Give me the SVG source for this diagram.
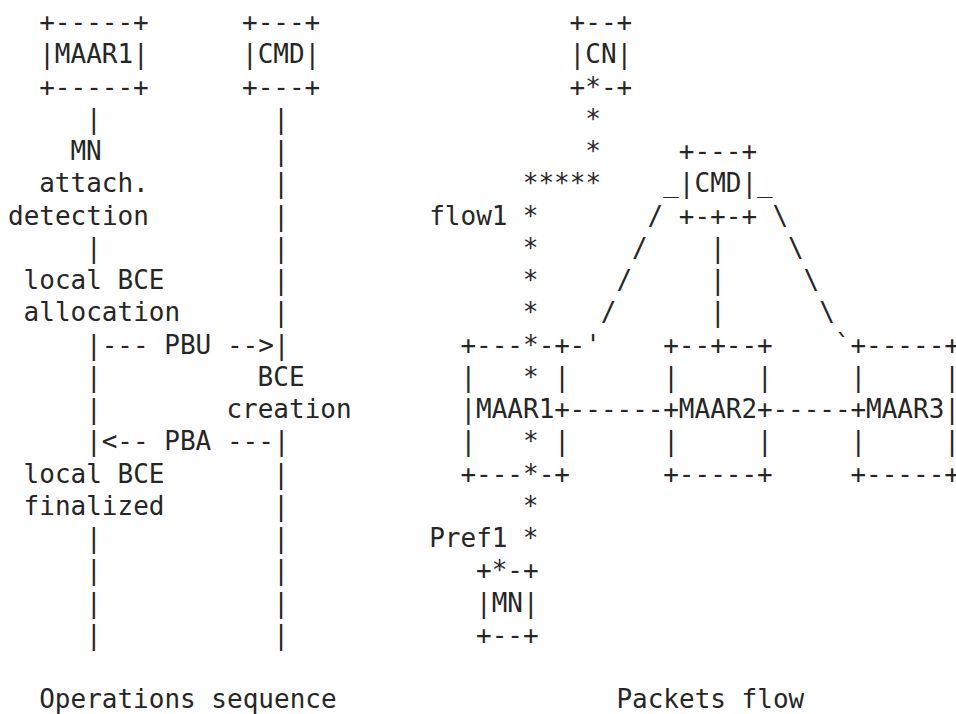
<svg xmlns="http://www.w3.org/2000/svg" width="956" height="714" viewBox="0 0 956 714" xml:space="preserve">
<style>
text { font-family: "DejaVu Sans Mono", monospace; font-size: 26px; fill: #262626; white-space: pre; }
</style>
<rect width="956" height="714" fill="#fff"/>
<g id="seq-maar1">
<text x="39.2" y="31">+-----+</text>
<text x="39.2" y="63.25">|MAAR1|</text>
<text x="39.2" y="95.5">+-----+</text>
</g>
<g id="seq-cmd">
<text x="242" y="31">+---+</text>
<text x="242" y="63.25">|CMD|</text>
<text x="242" y="95.5">+---+</text>
</g>
<g id="seq-attach">
<text x="70.4" y="160">MN</text>
<text x="39.2" y="192.25">attach.</text>
<text x="8" y="224.5">detection</text>
</g>
<g id="seq-alloc">
<text x="23.6" y="289">local BCE</text>
<text x="23.6" y="321.25">allocation</text>
</g>
<g id="seq-bce">
<text x="257.6" y="385.75">BCE</text>
<text x="226.4" y="418">creation</text>
</g>
<g id="seq-final">
<text x="23.6" y="482.5">local BCE</text>
<text x="23.6" y="514.75">finalized</text>
</g>
<g id="seq-label">
<text x="39.2" y="708.25">Operations sequence</text>
</g>
<g id="flow-cn">
<text x="569.6" y="31">+--+</text>
<text x="569.6" y="63.25">|CN|</text>
<text x="569.6" y="95.5">+*-+</text>
</g>
<g id="flow-cmd">
<text x="678.8" y="160">+---+</text>
<text x="663.2" y="192.25">_|CMD|_</text>
<text x="678.8" y="224.5">+-+-+</text>
</g>
<g id="flow-maar1">
<text x="460.4" y="353.5">+---*-+</text>
<text x="460.4" y="385.75">|   * |</text>
<text x="460.4" y="418">|MAAR1+</text>
<text x="460.4" y="450.25">|   * |</text>
<text x="460.4" y="482.5">+---*-+</text>
</g>
<g id="flow-maar2">
<text x="663.2" y="353.5">+--+--+</text>
<text x="663.2" y="385.75">|     |</text>
<text x="663.2" y="418">+MAAR2+</text>
<text x="663.2" y="450.25">|     |</text>
<text x="663.2" y="482.5">+-----+</text>
</g>
<g id="flow-maar3">
<text x="850.4" y="353.5">+-----+</text>
<text x="850.4" y="385.75">|     |</text>
<text x="850.4" y="418">+MAAR3|</text>
<text x="850.4" y="450.25">|     |</text>
<text x="850.4" y="482.5">+-----+</text>
</g>
<g id="flow-mn">
<text x="476" y="579.25">+*-+</text>
<text x="476" y="611.5">|MN|</text>
<text x="476" y="643.75">+--+</text>
</g>
<g id="flow-labels">
<text x="429.2" y="224.5">flow1</text>
<text x="429.2" y="547">Pref1</text>
<text x="616.4" y="708.25">Packets flow</text>
</g>
<g id="connectors">
<text x="86" y="127.75">|</text>
<text x="86" y="256.75">|</text>
<text x="86" y="385.75">|</text>
<text x="86" y="418">|</text>
<text x="86" y="547">|</text>
<text x="86" y="579.25">|</text>
<text x="86" y="611.5">|</text>
<text x="86" y="643.75">|</text>
<text x="273.2" y="127.75">|</text>
<text x="273.2" y="160">|</text>
<text x="273.2" y="192.25">|</text>
<text x="273.2" y="224.5">|</text>
<text x="273.2" y="256.75">|</text>
<text x="273.2" y="289">|</text>
<text x="273.2" y="321.25">|</text>
<text x="273.2" y="482.5">|</text>
<text x="273.2" y="514.75">|</text>
<text x="273.2" y="547">|</text>
<text x="273.2" y="579.25">|</text>
<text x="273.2" y="611.5">|</text>
<text x="273.2" y="643.75">|</text>
<text x="86" y="353.5">|--- PBU --&gt;|</text>
<text x="86" y="450.25">|&lt;-- PBA ---|</text>
<text x="585.2" y="127.75">*</text>
<text x="585.2" y="160">*</text>
<text x="522.8" y="192.25">*****</text>
<text x="522.8" y="224.5">*</text>
<text x="522.8" y="256.75">*</text>
<text x="522.8" y="289">*</text>
<text x="522.8" y="321.25">*</text>
<text x="522.8" y="514.75">*</text>
<text x="522.8" y="547">*</text>
<text x="647.6" y="224.5">/</text>
<text x="772.4" y="224.5">\</text>
<text x="632" y="256.75">/</text>
<text x="710" y="256.75">|</text>
<text x="788" y="256.75">\</text>
<text x="616.4" y="289">/</text>
<text x="710" y="289">|</text>
<text x="803.6" y="289">\</text>
<text x="600.8" y="321.25">/</text>
<text x="710" y="321.25">|</text>
<text x="819.2" y="321.25">\</text>
<text x="569.6" y="353.5">-'</text>
<text x="834.8" y="353.5">`</text>
<text x="569.6" y="418">------</text>
<text x="772.4" y="418">-----</text>
</g>
</svg>
